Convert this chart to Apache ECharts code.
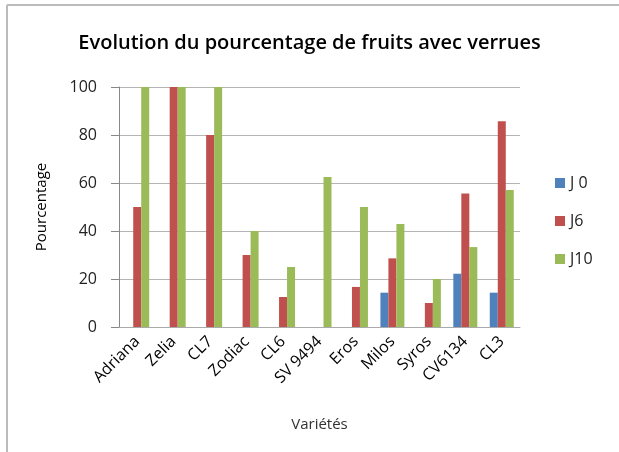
<!DOCTYPE html>
<html>
<head>
<meta charset="utf-8">
<script src="https://cdn.jsdelivr.net/npm/echarts@6/dist/echarts.min.js"></script>
<style>
html, body { margin: 0; padding: 0; background: #fff; }
#chart { width: 619px; height: 452px; }
</style>
</head>
<body>
<div id="chart"></div>
<script>
var categories = ['Adriana', 'Zelia', 'CL7', 'Zodiac', 'CL6', 'SV 9494', 'Eros', 'Milos', 'Syros', 'CV6134', 'CL3'];
var j0 = [0, 0, 0, 0, 0, 0, 0, 14.3, 0, 22.2, 14.3];
var j6 = [50, 100, 80, 30, 12.5, 0, 16.7, 28.6, 10, 55.6, 85.7];
var j10 = [100, 100, 100, 40, 25, 62.5, 50, 42.9, 20, 33.3, 57.1];
var seriesNames = ['J 0', 'J6', 'J10'];
var colors = ['#4F81BD', '#C0504D', '#9BBB59'];

var font = 'Open Sans';
var myChart = echarts.init(document.getElementById('chart'));

var option = {
	color: colors,
	textStyle: { fontFamily: font },
	title: {
		text: 'Evolution du pourcentage de fruits avec verrues',
		left: 'center',
		top: 28,
		textStyle: { fontSize: 20, fontWeight: 600, color: '#000', fontFamily: font }
	},
	legend: {
		orient: 'vertical',
		left: 550,
		top: 170,
		itemWidth: 10,
		itemHeight: 10,
		itemGap: 22,
		icon: 'rect',
		textStyle: { fontSize: 16, color: '#222' },
		data: seriesNames
	},
	grid: {
		left: 119,
		right: 99,
		top: 87,
		bottom: 125
	},
	xAxis: {
		type: 'category',
		data: categories,
		name: 'Variétés',
		nameLocation: 'middle',
		nameGap: 90,
		nameTextStyle: { fontSize: 15, color: '#333' },
		axisLine: { lineStyle: { color: '#aaa' } },
		axisTick: { show: false },
		axisLabel: { rotate: 45, fontSize: 16, color: '#000', margin: 12, interval: 0 }
	},
	yAxis: {
		type: 'value',
		min: 0,
		max: 100,
		interval: 20,
		name: 'Pourcentage',
		nameLocation: 'middle',
		nameGap: 70,
		nameTextStyle: { fontSize: 15, color: '#000' },
		axisLine: { show: true, lineStyle: { color: '#888' } },
		axisTick: { show: true, length: 8, lineStyle: { color: '#888' } },
		axisLabel: { fontSize: 16, color: '#222', margin: 22 },
		splitLine: { lineStyle: { color: '#b5b5b5', width: 1 } }
	},
	series: [
		{ name: seriesNames[0], type: 'bar', data: j0, barWidth: 8, barGap: '0%' },
		{ name: seriesNames[1], type: 'bar', data: j6, barWidth: 8, barGap: '0%' },
		{ name: seriesNames[2], type: 'bar', data: j10, barWidth: 8, barGap: '0%' }
	],
	graphic: [
		{ type: 'line', shape: { x1: 7, y1: 5, x2: 619, y2: 5 }, style: { stroke: '#bbb', lineWidth: 2 } },
		{ type: 'line', shape: { x1: 7, y1: 5, x2: 7, y2: 452 }, style: { stroke: '#bbb', lineWidth: 2 } }
	]
};

myChart.setOption(option);
</script>
</body>
</html>
